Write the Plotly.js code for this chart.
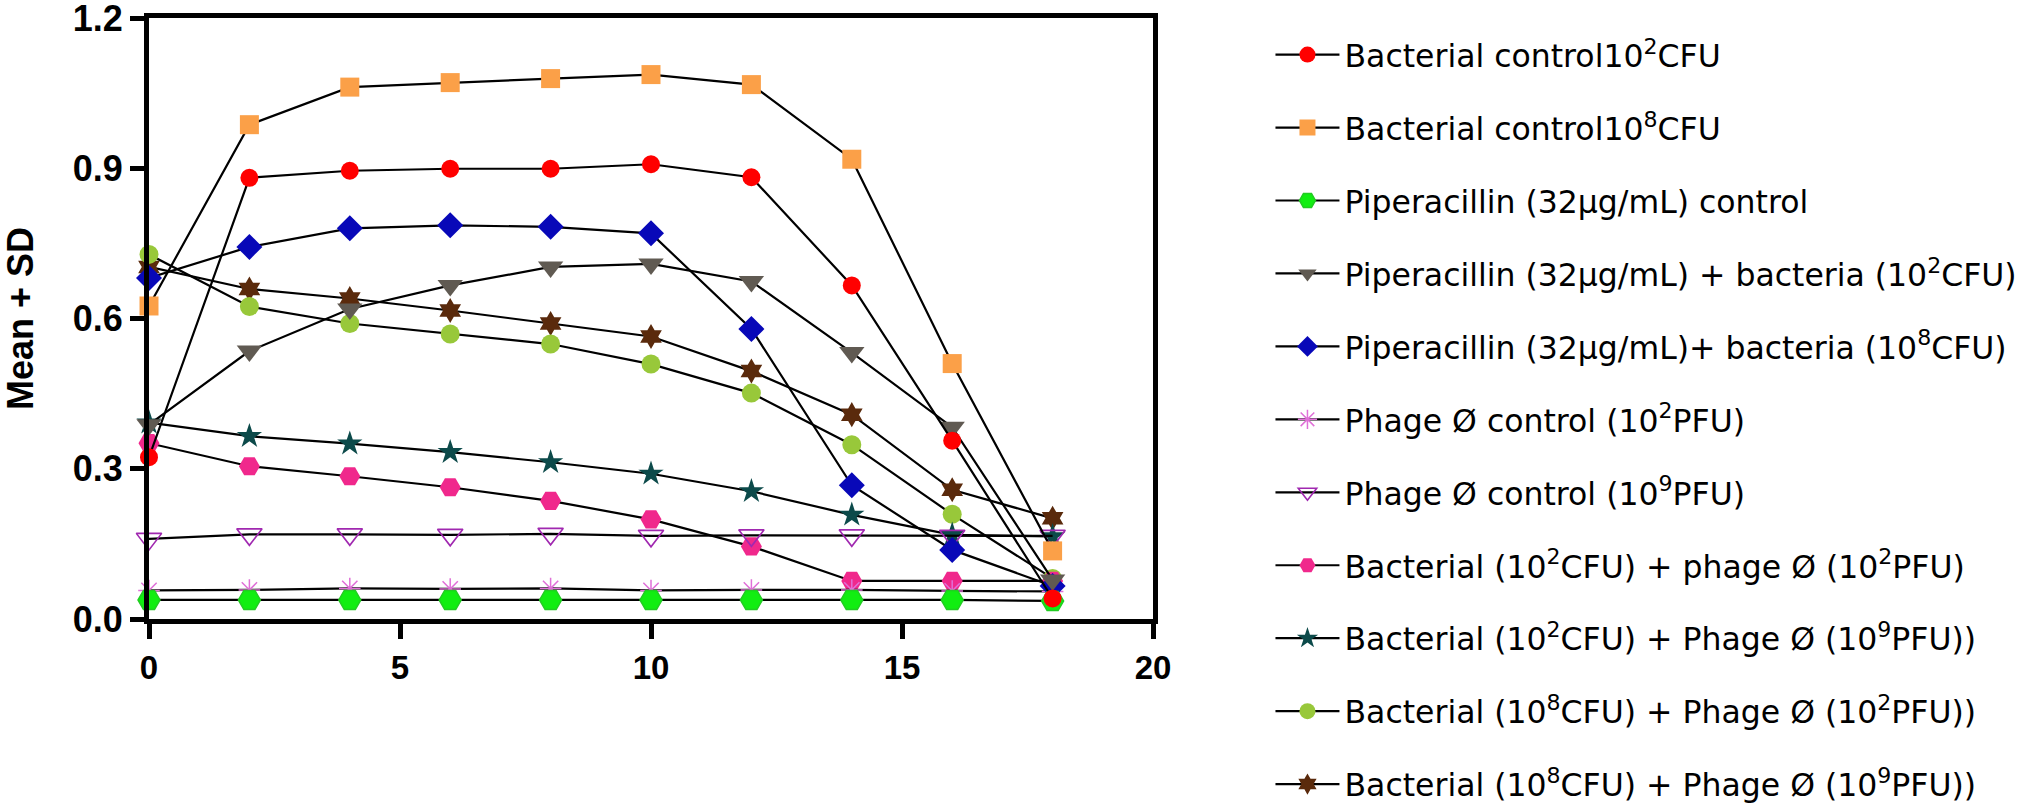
<!DOCTYPE html>
<html>
<head>
<meta charset="utf-8">
<script src="https://cdn.plot.ly/plotly-3.0.1.min.js"></script>
<style>html,body{margin:0;padding:0;background:#fff;}</style>
</head>
<body>
<div id="chart" style="width:2032px;height:808px;"></div>
<script>
const hours = [0, 2, 4, 6, 8, 10, 12, 14, 16, 18];

const seriesNames = [
  "Bacterial control10<sup>2</sup>CFU",
  "Bacterial control10<sup>8</sup>CFU",
  "Piperacillin (32μg/mL) control",
  "Piperacillin (32μg/mL) + bacteria (10<sup>2</sup>CFU)",
  "Piperacillin (32μg/mL)+ bacteria (10<sup>8</sup>CFU)",
  "Phage Ø control (10<sup>2</sup>PFU)",
  "Phage Ø control (10<sup>9</sup>PFU)",
  "Bacterial (10<sup>2</sup>CFU) + phage Ø (10<sup>2</sup>PFU)",
  "Bacterial (10<sup>2</sup>CFU) + Phage Ø (10<sup>9</sup>PFU))",
  "Bacterial (10<sup>8</sup>CFU) + Phage Ø (10<sup>2</sup>PFU))",
  "Bacterial (10<sup>8</sup>CFU) + Phage Ø (10<sup>9</sup>PFU))"
];

const bactControl2   = [0.323, 0.881, 0.895, 0.899, 0.899, 0.908, 0.882, 0.666, 0.356, 0.041];
const bactControl8   = [0.625, 0.987, 1.062, 1.071, 1.079, 1.087, 1.067, 0.918, 0.510, 0.136];
const piperControl   = [0.038, 0.038, 0.038, 0.038, 0.038, 0.038, 0.038, 0.038, 0.038, 0.036];
const piperBact2     = [0.388, 0.535, 0.619, 0.666, 0.703, 0.709, 0.674, 0.532, 0.383, 0.078];
const piperBact8     = [0.681, 0.743, 0.780, 0.786, 0.783, 0.770, 0.579, 0.267, 0.138, 0.066];
const phageControl2  = [0.057, 0.058, 0.061, 0.060, 0.061, 0.057, 0.058, 0.058, 0.056, 0.055];
const phageControl9  = [0.160, 0.169, 0.169, 0.168, 0.170, 0.166, 0.167, 0.167, 0.166, 0.166];
const bact2Phage2    = [0.351, 0.305, 0.285, 0.263, 0.236, 0.199, 0.145, 0.076, 0.076, 0.076];
const bact2Phage9    = [0.392, 0.365, 0.350, 0.333, 0.313, 0.290, 0.255, 0.208, 0.168, 0.165];
const bact8Phage2    = [0.728, 0.624, 0.590, 0.569, 0.549, 0.509, 0.451, 0.348, 0.209, 0.081];
const bact8Phage9    = [0.703, 0.659, 0.640, 0.616, 0.590, 0.564, 0.495, 0.408, 0.258, 0.201];

const yTickValues = [0, 0.3, 0.6, 0.9, 1.2];
const xTickValues = [0, 5, 10, 15, 20];

const seriesValues = [bactControl2, bactControl8, piperControl, piperBact2, piperBact8,
  phageControl2, phageControl9, bact2Phage2, bact2Phage9, bact8Phage2, bact8Phage9];

const markerStyles = [
  {symbol: "circle", size: 18, color: "#ff0000", line: {width: 0}},
  {symbol: "square", size: 19, color: "#fba048", line: {width: 0}},
  {symbol: "hexagon2", size: 22, color: "#11ee11", line: {width: 1.5, color: "#22cc22"}},
  {symbol: "triangle-down", size: 22, color: "#605a52", line: {width: 0}},
  {symbol: "diamond", size: 20, color: "#0808b8", line: {width: 0}},
  {symbol: "asterisk-open", size: 18, color: "#e070d8", line: {width: 1.5, color: "#e070d8"}},
  {symbol: "triangle-down-open", size: 22, color: "#a028b0", line: {width: 1.6, color: "#a028b0"}},
  {symbol: "hexagon2", size: 21, color: "#f0288c", line: {width: 0}},
  {symbol: "star", size: 19, color: "#0c4a4a", line: {width: 0}},
  {symbol: "circle", size: 19, color: "#98c83a", line: {width: 0}},
  {symbol: "hexagram", size: 19, color: "#5a2a0c", line: {width: 0}}
];

// drawn last-first so that the first series sits on top; legend order kept by legendrank
const traces = [];
for (let i = seriesNames.length - 1; i >= 0; i--) {
  traces.push({
    x: hours,
    y: seriesValues[i],
    name: seriesNames[i],
    legendgroup: "g" + i,
    legendrank: i + 1,
    type: "scatter",
    mode: "lines+markers",
    cliponaxis: false,
    line: {color: "#000000", width: 2.2},
    marker: markerStyles[i]
  });
}

const layout = {
  width: 2032,
  height: 808,
  paper_bgcolor: "#ffffff",
  plot_bgcolor: "#ffffff",
  margin: {l: 149, r: 879, t: 18, b: 189, pad: 0, autoexpand: false},
  showlegend: true,
  legend: {
    x: 1.117, xanchor: "left",
    y: 0.984, yanchor: "top",
    traceorder: "grouped",
    tracegroupgap: 29,
    itemwidth: 64,
    maxheight: 808,
    font: {family: "DejaVu Sans", size: 31.5, color: "#000000"},
    bgcolor: "rgba(0,0,0,0)"
  },
  xaxis: {
    range: [0, 20],
    tickvals: xTickValues,
    ticks: "outside", ticklen: 15, tickwidth: 5, tickcolor: "#000",
    showline: true, linewidth: 5, linecolor: "#000", mirror: true,
    showgrid: false, zeroline: false,
    ticklabeloverflow: "allow",
    tickfont: {family: "Liberation Sans, Arial", size: 33, weight: "bold", color: "#000"}
  },
  yaxis: {
    range: [0, 1.2],
    tickvals: yTickValues,
    tickformat: ".1f",
    ticks: "outside", ticklen: 14, tickwidth: 5, tickcolor: "#000",
    showline: true, linewidth: 5, linecolor: "#000", mirror: true,
    showgrid: false, zeroline: false,
    ticklabeloverflow: "allow",
    tickfont: {family: "Liberation Sans, Arial", size: 36, weight: "bold", color: "#000"},
    title: {text: "Mean + SD", standoff: 30,
      font: {family: "Liberation Sans, Arial", size: 36, weight: "bold", color: "#000"}}
  }
};

Plotly.newPlot("chart", traces, layout, {staticPlot: true, displayModeBar: false});
</script>
</body>
</html>
